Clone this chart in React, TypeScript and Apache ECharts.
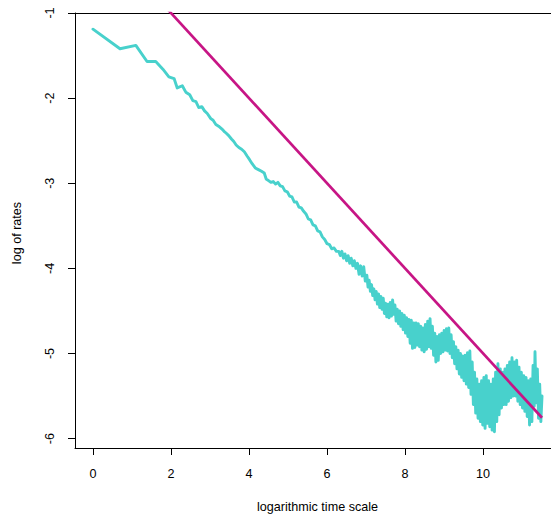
import React, { useEffect, useRef } from "react";
import * as echarts from "echarts";

// tick values
const xTicks = [0, 2, 4, 6, 8, 10];
const yTicks = [-6, -5, -4, -3, -2, -1];

const rateTrace: [number, number][] = [
  [0, -1.19], [0.693, -1.42], [1.099, -1.38], [1.386, -1.57], [1.609, -1.57],
  [1.792, -1.66], [1.946, -1.75], [2.079, -1.77], [2.16, -1.88], [2.29, -1.855],
  [2.38, -1.93], [2.48, -1.96], [2.56, -2.03], [2.64, -2.04], [2.71, -2.11],
  [2.79, -2.1], [2.86, -2.15], [2.93, -2.18], [3.02, -2.24], [3.08, -2.26],
  [3.15, -2.31], [3.22, -2.33], [3.3, -2.36], [3.36, -2.39], [3.41, -2.41],
  [3.48, -2.44], [3.55, -2.48], [3.61, -2.51], [3.67, -2.55], [3.74, -2.58],
  [3.81, -2.6], [3.88, -2.63], [3.95, -2.68], [4.01, -2.72], [4.08, -2.77],
  [4.16, -2.82], [4.24, -2.84], [4.32, -2.86], [4.39, -2.88], [4.44, -2.95],
  [4.5, -2.97], [4.56, -2.99], [4.62, -2.98], [4.68, -3.01], [4.74, -2.99],
  [4.8, -3.03], [4.86, -3.04], [4.92, -3.09], [4.98, -3.1], [5.04, -3.15],
  [5.1, -3.16], [5.16, -3.22], [5.22, -3.22], [5.28, -3.28], [5.34, -3.29],
  [5.4, -3.33], [5.46, -3.36], [5.52, -3.42], [5.58, -3.43], [5.64, -3.49],
  [5.7, -3.5], [5.76, -3.56], [5.82, -3.57], [5.88, -3.63], [5.94, -3.66],
  [6.0, -3.71], [6.06, -3.72], [6.12, -3.77], [6.18, -3.76], [6.24, -3.8],
  [6.3, -3.8], [6.34, -3.85], [6.38, -3.8], [6.42, -3.88], [6.46, -3.83],
  [6.5, -3.91], [6.54, -3.85], [6.58, -3.94], [6.62, -3.88], [6.66, -3.97],
  [6.7, -3.91], [6.74, -4.0], [6.78, -3.94], [6.82, -4.07], [6.86, -3.97],
  [6.9, -4.09], [6.94, -3.98], [6.98, -4.15],
  [7.02, -4.08], [7.05, -4.22], [7.08, -4.14], [7.11, -4.27], [7.14, -4.19],
  [7.17, -4.32], [7.2, -4.24], [7.23, -4.37], [7.26, -4.27], [7.29, -4.42],
  [7.32, -4.3], [7.35, -4.46], [7.38, -4.33], [7.41, -4.48], [7.44, -4.35],
  [7.47, -4.53], [7.5, -4.41], [7.53, -4.57], [7.56, -4.42], [7.59, -4.58],
  [7.62, -4.4], [7.65, -4.56], [7.68, -4.37], [7.71, -4.54], [7.74, -4.43],
  [7.77, -4.62], [7.8, -4.48], [7.83, -4.65], [7.86, -4.5], [7.89, -4.68],
  [7.92, -4.53], [7.95, -4.72], [7.98, -4.55], [8.01, -4.76], [8.04, -4.58],
  [8.07, -4.8], [8.1, -4.6], [8.13, -4.88], [8.16, -4.61], [8.19, -4.94],
  [8.22, -4.64], [8.25, -4.93], [8.28, -4.64], [8.31, -4.9], [8.34, -4.65],
  [8.37, -4.92], [8.4, -4.68], [8.43, -4.96], [8.46, -4.7], [8.49, -4.98],
  [8.52, -4.66], [8.55, -4.95], [8.58, -4.62], [8.61, -4.92], [8.64, -4.59],
  [8.67, -4.94], [8.7, -4.68], [8.73, -5.02], [8.76, -4.76], [8.79, -5.1],
  [8.82, -4.8], [8.85, -5.08], [8.88, -4.78], [8.91, -5.0], [8.94, -4.76],
  [8.97, -4.98], [9.0, -4.73], [9.03, -4.96], [9.06, -4.71], [9.09, -4.97],
  [9.12, -4.7], [9.15, -5.0], [9.18, -4.78], [9.21, -5.05], [9.24, -4.86],
  [9.27, -5.12], [9.3, -4.92], [9.33, -5.18], [9.36, -4.96], [9.39, -5.24],
  [9.42, -5.0], [9.45, -5.28], [9.48, -5.03], [9.51, -5.32], [9.54, -5.02],
  [9.57, -5.36], [9.6, -4.99], [9.63, -5.4], [9.66, -4.97], [9.69, -5.48],
  [9.72, -5.1], [9.75, -5.6], [9.78, -5.22], [9.81, -5.7], [9.84, -5.3],
  [9.87, -5.76], [9.9, -5.36], [9.93, -5.8], [9.96, -5.32], [9.99, -5.84],
  [10.02, -5.28], [10.05, -5.88], [10.08, -5.26], [10.11, -5.82], [10.14, -5.32],
  [10.17, -5.86], [10.2, -5.36], [10.23, -5.9], [10.26, -5.3], [10.29, -5.92],
  [10.32, -5.22], [10.35, -5.8], [10.38, -5.12], [10.41, -5.72], [10.44, -5.18],
  [10.47, -5.64], [10.5, -5.22], [10.53, -5.6], [10.56, -5.18], [10.59, -5.6],
  [10.62, -5.14], [10.65, -5.56], [10.68, -5.1], [10.71, -5.52], [10.74, -5.05],
  [10.77, -5.5], [10.8, -5.1], [10.83, -5.5], [10.86, -5.08], [10.89, -5.56],
  [10.92, -5.16], [10.95, -5.6], [10.98, -5.22], [11.01, -5.64], [11.04, -5.26],
  [11.07, -5.68], [11.1, -5.28], [11.13, -5.74], [11.16, -5.32], [11.19, -5.84],
  [11.22, -5.3], [11.25, -5.8], [11.28, -5.14], [11.31, -5.62], [11.33, -4.98],
  [11.36, -5.58], [11.39, -5.18], [11.42, -5.76], [11.45, -5.36], [11.48, -5.8],
  [11.51, -5.5],
];

// reference line: slope -1/2 through origin
const fitLine: [number, number][] = [
  [0, 0],
  [11.51, -5.755],
];

const FONT = "'Liberation Sans', Arial, Helvetica, sans-serif";
const FS = 12.6;

export default function App() {
  const ref = useRef<HTMLDivElement>(null);
  useEffect(() => {
    if (!ref.current) return;
    const chart = echarts.init(ref.current, undefined, { renderer: "svg" });
    const axisCommon = {
      type: "value" as const,
      min: -0.4604,
      max: 11.74,
      splitLine: { show: false },
    };
    chart.setOption({
      animation: false,
      backgroundColor: "#ffffff",
      grid: { left: 75, top: 13, right: 0, bottom: 70 },
      xAxis: [
        {
          ...axisCommon,
          position: "bottom",
          axisLine: { show: true, onZero: false, lineStyle: { color: "#000", width: 1 } },
          axisTick: { show: true, length: 7, customValues: xTicks, lineStyle: { color: "#000", width: 1 } },
          axisLabel: {
            show: true,
            customValues: xTicks,
            margin: 19,
            fontSize: FS,
            color: "#000",
            fontFamily: FONT,
          },
        },
        {
          ...axisCommon,
          position: "top",
          axisLine: { show: true, onZero: false, lineStyle: { color: "#000", width: 1 } },
          axisTick: { show: false },
          axisLabel: { show: false },
        },
      ],
      yAxis: {
        type: "value",
        min: -6.11,
        max: -1,
        splitLine: { show: false },
        axisLine: { show: true, onZero: false, lineStyle: { color: "#000", width: 1 } },
        axisTick: { show: true, length: 7, customValues: yTicks, lineStyle: { color: "#000", width: 1 } },
        axisLabel: {
          show: true,
          customValues: yTicks,
          rotate: 90,
          margin: 19,
          fontSize: FS,
          color: "#000",
          fontFamily: FONT,
        },
      },
      graphic: [
        {
          type: "text",
          x: 317.5,
          y: 507,
          style: {
            text: "logarithmic time scale",
            fontSize: FS,
            fontFamily: FONT,
            fill: "#000",
            align: "center",
            verticalAlign: "middle",
          },
        },
        {
          type: "text",
          x: 17,
          y: 233,
          rotation: Math.PI / 2,
          style: {
            text: "log of rates",
            fontSize: FS,
            fontFamily: FONT,
            fill: "#000",
            align: "center",
            verticalAlign: "middle",
          },
        },
      ],
      series: [
        {
          type: "line",
          xAxisIndex: 0,
          yAxisIndex: 0,
          data: rateTrace,
          showSymbol: false,
          symbol: "none",
          clip: true,
          silent: true,
          lineStyle: { color: "#48D1CC", width: 2.9, join: "round", cap: "round" },
          z: 2,
        },
        {
          type: "line",
          xAxisIndex: 0,
          yAxisIndex: 0,
          data: fitLine,
          showSymbol: false,
          symbol: "none",
          clip: true,
          silent: true,
          lineStyle: { color: "#C71585", width: 2.7 },
          z: 3,
        },
      ],
    });
    return () => chart.dispose();
  }, []);
  return (
    <div
      ref={ref}
      style={{ position: "fixed", left: 0, top: 0, width: 551, height: 518, background: "#fff" }}
    />
  );
}
